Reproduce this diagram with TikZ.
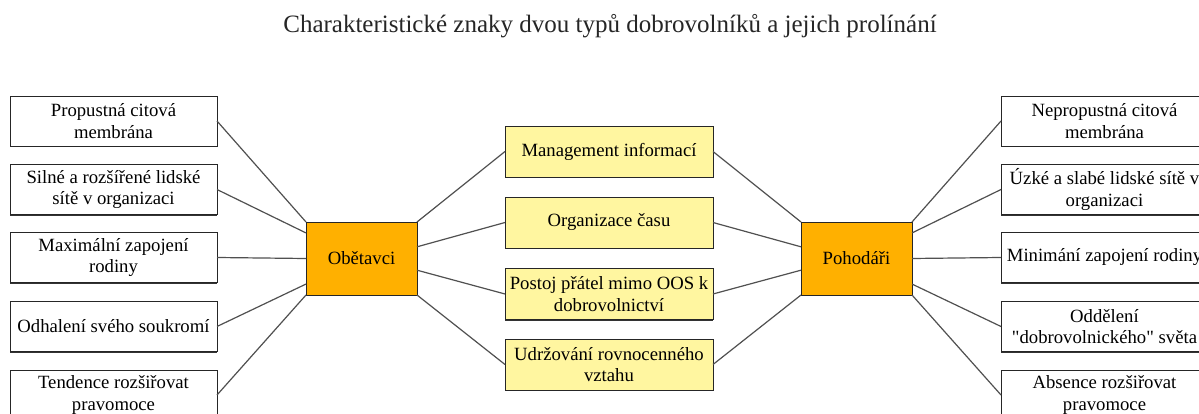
\documentclass[tikz,border=0pt]{standalone}
\usepackage{fontspec}
\setmainfont{Liberation Serif}
\usepackage{tikz}
\usetikzlibrary{calc,positioning,shadows}
\usepackage{xcolor}
\definecolor{typorange}{RGB}{255,176,0}
\definecolor{sharedyellow}{RGB}{255,246,160}
\definecolor{linkgray}{RGB}{80,80,80}

\begin{document}
\begin{tikzpicture}[x=1pt,y=-1pt,
            trait/.style={
                draw=black!85,
                line width=0.9pt,
                fill=white,
                minimum width=207pt,
                minimum height=50pt,
                inner sep=0pt,
                outer sep=0pt,
                align=center,
                font=\fontsize{18.7}{21.7}\selectfont,
                drop shadow={shadow xshift=0pt,shadow yshift=-1.3pt,fill=black!80,opacity=1}
            },
            shared/.style={trait, fill=sharedyellow, minimum width=208pt, minimum height=51pt},
            voltype/.style={trait, fill=typorange, minimum width=111pt, minimum height=73pt},
            conn/.style={draw=linkgray, line width=1.2pt}]
            \clip (0,0) rectangle (1199,414);
            \useasboundingbox (0,0) rectangle (1199,414);
            \fill[white] (0,0) rectangle (1199,414);

            \node (title) at (610,26) [font=\fontsize{25}{30}\selectfont, text=black!85]
                {Charakteristické znaky dvou typů dobrovolníků a jejich prolínání};

            % typy dobrovolniku
            \node[voltype] (obet) at (361.5,258.5) {Obětavci};
            \node[voltype] (poho) at (856.5,258.5) {Pohodáři};

            % leva strana
            \node[trait] (l1) at (113.5,121)   {Propustná citová\\membrána};
            \node[trait] (l2) at (113.5,189.5) {Silné a rozšířené lidské\\sítě v organizaci};
            \node[trait] (l3) at (113.5,257.5) {Maximální zapojení\\rodiny};
            \node[trait] (l4) at (113.5,326.5) {Odhalení svého soukromí};
            \node[trait] (l5) at (113.5,395)   {Tendence rozšiřovat\\pravomoce};

            % prava strana
            \node[trait] (r1) at (1104.5,121)   {Nepropustná citová\\membrána};
            \node[trait] (r2) at (1104.5,189.5) {Úzké a slabé lidské sítě v\\organizaci};
            \node[trait] (r3) at (1104.5,257.5) {Minimání zapojení rodiny};
            \node[trait] (r4) at (1104.5,326.5) {Oddělení\\\textquotedbl dobrovolnického\textquotedbl{} světa};
            \node[trait] (r5) at (1104.5,395)   {Absence rozšiřovat\\pravomoce};

            % prolinani
            \node[shared] (m1) at (609,151.5) {Management informací};
            \node[shared] (m2) at (609,222.5) {Organizace času};
            \node[shared] (m3) at (609,294)   {Postoj přátel mimo OOS k\\dobrovolnictví};
            \node[shared] (m4) at (609,364.5) {Udržování rovnocenného\\vztahu};

            \foreach \i/\f in {1/0,2/0.15,3/0.5,4/0.85,5/1}{
                \draw[conn] (l\i.east) -- ($(obet.north west)!\f!(obet.south west)$);
                \draw[conn] (r\i.west) -- ($(poho.north east)!\f!(poho.south east)$);
            }
            \foreach \i/\f in {1/0,2/0.34,3/0.66,4/1}{
                \draw[conn] (m\i.west) -- ($(obet.north east)!\f!(obet.south east)$);
                \draw[conn] (m\i.east) -- ($(poho.north west)!\f!(poho.south west)$);
            }
            \end{tikzpicture}
\end{document}
